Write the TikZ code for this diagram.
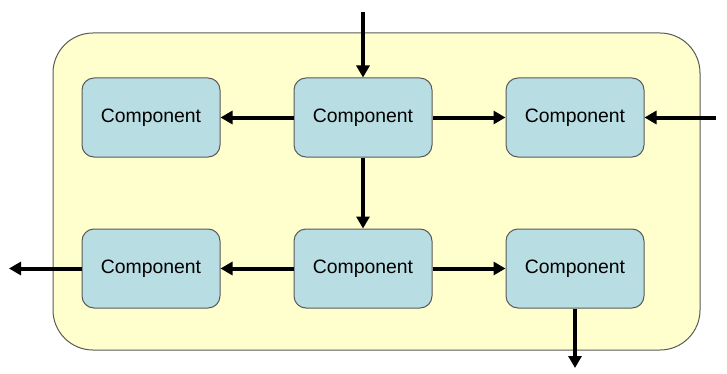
\documentclass[tikz,border=0pt]{standalone}
\usepackage{fontspec}
\setmainfont{Liberation Sans}
\usetikzlibrary{arrows.meta}

\definecolor{paleyellow}{RGB}{255,255,206}
\definecolor{compblue}{RGB}{184,222,228}
\definecolor{edgegray}{RGB}{90,90,90}

\tikzset{
  comp/.style={draw=edgegray, fill=compblue, rounded corners=6pt, line width=0.5pt,
    minimum width=69pt, minimum height=39.5pt, inner sep=0,
    font=\fontsize{9.7}{12}\selectfont},
  flow/.style={line width=2pt, -{Triangle[length=6pt,width=6.5pt]}}
}

\begin{document}
\begin{tikzpicture}[x=0.5pt, y=-0.5pt]

\useasboundingbox (0,0) rectangle (727,374);

\node[draw=edgegray, fill=paleyellow, rounded corners=20pt, line width=0.5pt,
  minimum width=323.5pt, minimum height=158.5pt, inner sep=0] (frame) at (376.5,191.5) {};

\node[comp] (tl) at (151,117.5) {Component};
\node[comp] (tm) at (363,117.5) {Component};
\node[comp] (tr) at (575,117.5) {Component};

\node[comp] (bl) at (151,268.5) {Component};
\node[comp] (bm) at (363,268.5) {Component};
\node[comp] (br) at (575,268.5) {Component};

\coordinate (inTop) at (363,12);
\coordinate (inRight) at (716,117.5);
\coordinate (outLeft) at (9,268.5);
\coordinate (outBottom) at (575,368);

\draw[flow] (inTop) to (tm);
\draw[flow] (tm) to (tl);
\draw[flow] (tm) to (tr);
\draw[flow] (inRight) to (tr);
\draw[flow] (tm) to (bm);

\draw[flow] (bm) to (bl);
\draw[flow] (bm) to (br);
\draw[flow] (bl) to (outLeft);
\draw[flow] (br) to (outBottom);

\end{tikzpicture}
\end{document}
